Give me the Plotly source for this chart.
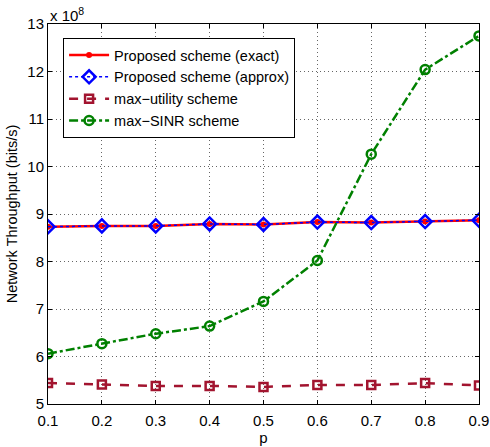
import plotly.graph_objects as go

p = [0.1, 0.2, 0.3, 0.4, 0.5, 0.6, 0.7, 0.8, 0.9]
exact = [8.73, 8.75, 8.75, 8.79, 8.78, 8.83, 8.82, 8.84, 8.87]
approx = [8.73, 8.75, 8.75, 8.79, 8.78, 8.83, 8.82, 8.84, 8.87]
max_utility = [5.44, 5.41, 5.38, 5.38, 5.36, 5.40, 5.40, 5.44, 5.39]
max_sinr = [6.06, 6.27, 6.48, 6.64, 7.16, 8.02, 10.26, 12.04, 12.75]
xticks = [0.1, 0.2, 0.3, 0.4, 0.5, 0.6, 0.7, 0.8, 0.9]
yticks = [5, 6, 7, 8, 9, 10, 11, 12, 13]

font = "Liberation Sans, Arial, sans-serif"
green = "#008000"
maroon = "#A2142F"

fig = go.Figure()
fig.add_trace(go.Scatter(x=p, y=exact, name="Proposed scheme (exact)", mode="lines+markers",
                         line=dict(color="red", width=2.5),
                         marker=dict(symbol="circle", size=6, color="red")))
fig.add_trace(go.Scatter(x=p, y=approx, name="Proposed scheme (approx)", mode="lines+markers",
                         line=dict(color="blue", width=1.5, dash="dot"),
                         marker=dict(symbol="diamond-open", size=10, color="blue", line=dict(width=2.5))))
fig.add_trace(go.Scatter(x=p, y=max_utility, name="max\u2212utility scheme", mode="lines+markers",
                         line=dict(color=maroon, width=2.5, dash="dash"),
                         marker=dict(symbol="square-open", size=8, color=maroon, line=dict(width=2.5))))
fig.add_trace(go.Scatter(x=p, y=max_sinr, name="max\u2212SINR scheme", mode="lines+markers",
                         line=dict(color=green, width=2.5, dash="dashdot"),
                         marker=dict(symbol="circle-open", size=9, color=green, line=dict(width=2.5))))

axis_common = dict(showline=True, linecolor="black", linewidth=1, mirror="allticks",
                   ticks="inside", ticklen=4, tickcolor="black", automargin=False,
                   showgrid=True, gridcolor="#666666", griddash="1px,3px", gridwidth=1,
                   zeroline=False, tickfont=dict(size=15, color="black", family=font))

fig.update_layout(
    width=490, height=447,
    margin=dict(l=48, r=11, t=24, b=43),
    paper_bgcolor="white", plot_bgcolor="white",
    font=dict(family=font, color="black", size=15),
    xaxis=dict(range=[0.1, 0.9], tickvals=xticks, ticktext=[str(v) for v in xticks],
               ticklabelstandoff=3,
               title=dict(text="p", font=dict(size=15), standoff=0), **axis_common),
    yaxis=dict(range=[5, 13], tickvals=yticks, ticktext=[str(v) for v in yticks],
               title=dict(text="Network Throughput (bits/s)", font=dict(size=14.5), standoff=6), **axis_common),
    legend=dict(x=0.035, y=0.963, xanchor="left", yanchor="top",
                bordercolor="black", borderwidth=1, bgcolor="white",
                font=dict(size=14.5, family=font), tracegroupgap=0, itemwidth=40),
    showlegend=True,
)
fig.add_annotation(text="x 10<sup>8</sup>", xref="paper", yref="paper", x=0.0, y=1.0,
                   xanchor="left", yanchor="bottom", showarrow=False, yshift=-2,
                   font=dict(size=15, family=font, color="black"))

fig.write_html("out.html")
